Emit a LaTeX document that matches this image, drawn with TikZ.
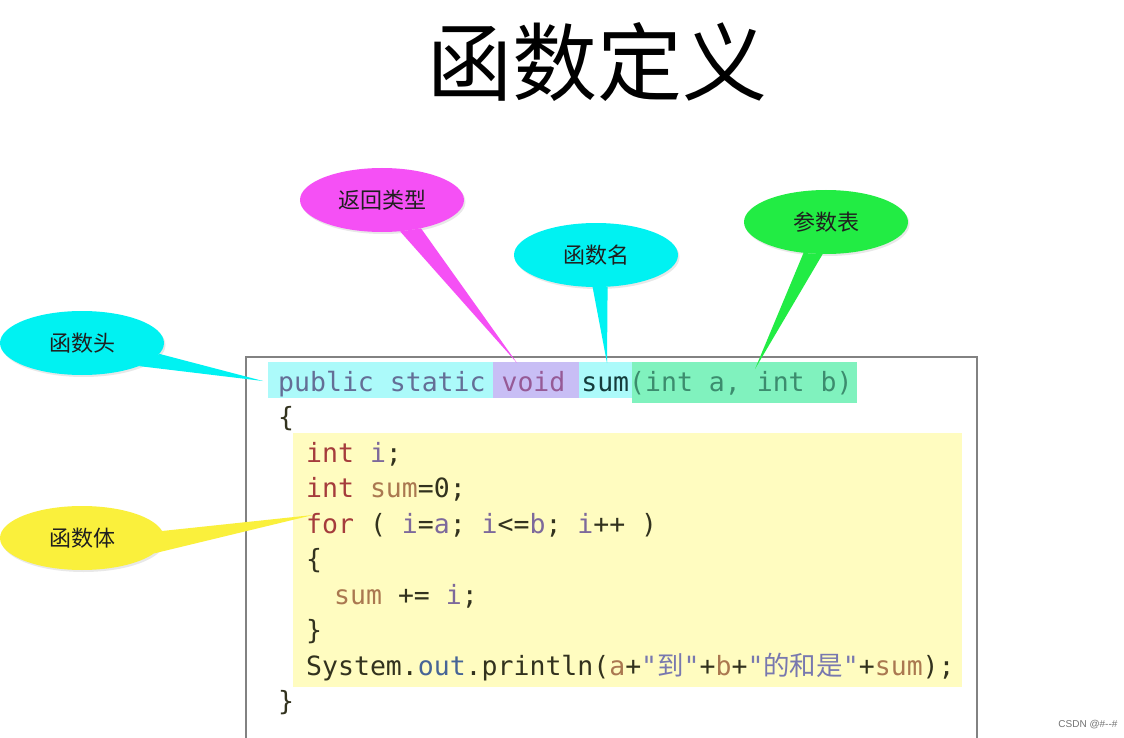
\documentclass[tikz,border=0pt]{standalone}
\usepackage{fontspec}
\usepackage{xcolor}
\usetikzlibrary{shapes.geometric,shadows}
\newfontfamily\cjk{Noto Sans CJK SC}
\newfontfamily\codefont[Ligatures=TeXOff]{DejaVu Sans Mono}
\newfontfamily\wmfont[Ligatures=TeXOff]{Liberation Sans}
\definecolor{hlcyan}{RGB}{172,250,250}
\definecolor{hlpurple}{RGB}{200,190,245}
\definecolor{hlgreen}{RGB}{128,242,190}
\definecolor{hlyellow}{RGB}{255,252,192}
\definecolor{cocyan}{RGB}{0,242,242}
\definecolor{comagenta}{RGB}{245,80,245}
\definecolor{cogreen}{RGB}{34,236,68}
\definecolor{coyellow}{RGB}{250,240,60}
\definecolor{hdslate}{RGB}{100,110,150}
\definecolor{hdvoid}{RGB}{150,90,150}
\definecolor{hdname}{RGB}{20,60,60}
\definecolor{hdparam}{RGB}{60,140,110}
\definecolor{kwred}{RGB}{165,60,60}
\definecolor{varpurple}{RGB}{125,105,155}
\definecolor{vartan}{RGB}{170,120,80}
\definecolor{strpurple}{RGB}{120,120,175}
\definecolor{outblue}{RGB}{70,100,150}
\definecolor{codedark}{RGB}{50,50,30}
\definecolor{boxline}{RGB}{130,130,130}
\newcommand\kw[1]{\textcolor{kwred}{#1}}
\newcommand\vr[1]{\textcolor{varpurple}{#1}}
\newcommand\sm[1]{\textcolor{vartan}{#1}}
\newcommand\st[1]{\textcolor{strpurple}{#1}}

\begin{document}
\begin{tikzpicture}[x=1pt,y=-1pt]
  \tikzset{
    callout/.style={ellipse, minimum width=164pt, minimum height=64pt, inner sep=0pt,
      font=\cjk\fontsize{22}{22}\selectfont, text=black!88,
      drop shadow={shadow xshift=1.5pt, shadow yshift=-2pt, opacity=0.18}},
    codeline/.style={anchor=base west, inner sep=0pt, text=codedark,
      font=\codefont\fontsize{26.5}{26.5}\selectfont},
  }
  \fill[white] (0,0) rectangle (1124,738);
  \useasboundingbox (0,0) rectangle (1124,738);

  % title
  \node[font=\cjk\fontsize{85}{85}\selectfont] (title) at (597,62) {函数定义};

  % highlights
  \fill[hlcyan] (268,362) rectangle (632,398);
  \fill[hlpurple] (493,362) rectangle (579,398);
  \fill[hlgreen] (632,362) rectangle (857,403);
  \fill[hlyellow] (293,433) rectangle (962,687);

  % code box
  \draw[boxline, line width=1.2pt] (246,738) |- (977,357) -- (977,738);

  % code
  \node[codeline] (l1) at (278,391) {\textcolor{hdslate}{public static }\textcolor{hdvoid}{void} \textcolor{hdname}{sum}\textcolor{hdparam}{(int a, int b)}};
  \node[codeline] (l2) at (278,426.5) {\{};
  \node[codeline] (l3) at (306,462) {\kw{int} \vr{i};};
  \node[codeline] (l4) at (306,497.5) {\kw{int} \sm{sum}=0;};
  \node[codeline] (l5) at (306,533) {\kw{for} ( \vr{i}=\vr{a}; \vr{i}<=\vr{b}; \vr{i}++ )};
  \node[codeline] (l6) at (306,568.5) {\{};
  \node[codeline] (l7) at (334,604) {\sm{sum} += \vr{i};};
  \node[codeline] (l8) at (306,639.5) {\}};
  \node[codeline] (l9) at (306,675) {System.\textcolor{outblue}{out}.println(\sm{a}+\st{"{\cjk 到}"}+\sm{b}+\st{"{\cjk 的和是}"}+\sm{sum});};
  \node[codeline] (l10) at (278,710.5) {\}};

  % pointer tips
  \coordinate (headtip) at (263,381);
  \coordinate (rtypetip) at (517,363);
  \coordinate (fnametip) at (607,363);
  \coordinate (paramstip) at (755,369);
  \coordinate (bodytip) at (313,515);

  % callouts
  \node[callout, fill=cocyan] (head) at (82,343) {函数头};
  \fill[cocyan] (head.-8) -- (headtip) -- (head.-22) -- cycle;
  \node[callout, fill=comagenta] (rtype) at (382,200) {返回类型};
  \fill[comagenta] (rtype.-60) -- (rtypetip) -- (rtype.-36) -- cycle;
  \node[callout, fill=cocyan] (fname) at (596,255) {函数名};
  \fill[cocyan] (fname.-96) -- (fnametip) -- (fname.-70) -- cycle;
  \node[callout, fill=cogreen] (params) at (826,222) {参数表};
  \fill[cogreen] (params.-126) -- (paramstip) -- (params.-96) -- cycle;
  \node[callout, fill=coyellow] (body) at (82,538) {函数体};
  \fill[coyellow] (body.5) -- (bodytip) -- (body.-12) -- cycle;

  % watermark
  \node[font=\wmfont\fontsize{10}{10}\selectfont, text=black!55, anchor=east] (wm) at (1121,725) {CSDN @\#--\#};
\end{tikzpicture}
\end{document}
